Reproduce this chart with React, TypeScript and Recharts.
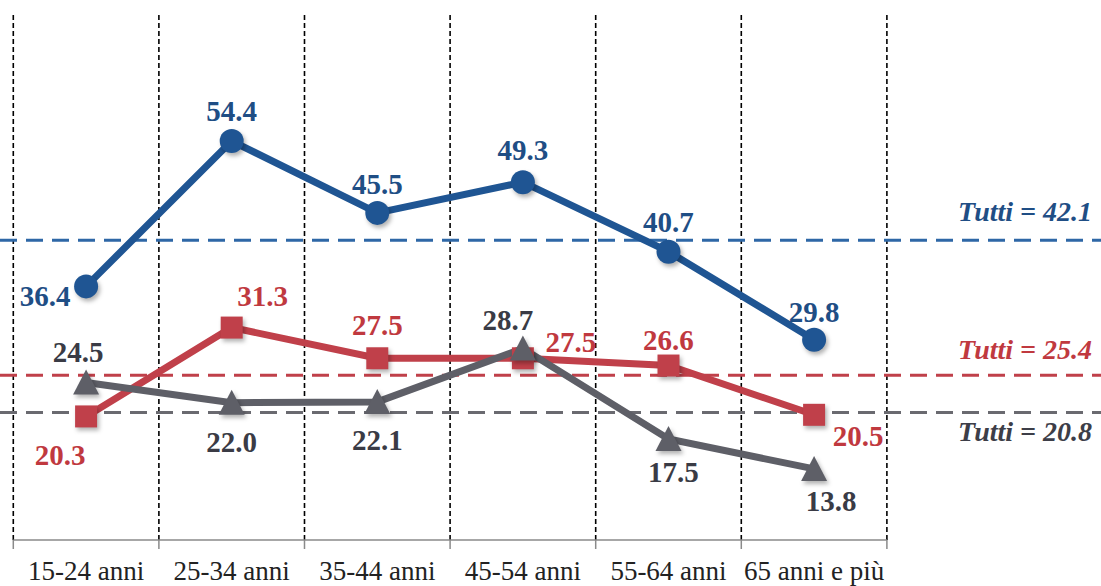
import { LabelList, Line, LineChart, ReferenceLine, XAxis, YAxis } from "recharts";

const categories = ["15-24 anni", "25-34 anni", "35-44 anni", "45-54 anni", "55-64 anni", "65 anni e più"];
const blueValues = [36.4, 54.4, 45.5, 49.3, 40.7, 29.8];
const redValues = [20.3, 31.3, 27.5, 27.5, 26.6, 20.5];
const grayValues = [24.5, 22.0, 22.1, 28.7, 17.5, 13.8];
const blueTotal = 42.1;
const redTotal = 25.4;
const grayTotal = 20.8;

// label placement (dx, dy from the point), styling only
const BLUE_OFFSETS = [[-41, 10], [0, -30], [0, -29], [0, -32], [0, -30], [0, -28]];
const RED_OFFSETS = [[-26, 39], [31, -32], [0, -33], [48, -16], [0, -26], [44, 21]];
const GRAY_OFFSETS = [[-8, -31], [0, 39], [0, 38], [-15, -29], [5, 33], [17, 32]];

const SERIF = "'Liberation Serif', 'Times New Roman', serif";
const BLUE = "#1f5593";
const RED = "#c0404a";
const GRAY = "#5e5f67";

const chartData = categories.map((name, i) => ({
  x: i + 0.5,
  name,
  blue: blueValues[i],
  red: redValues[i],
  gray: grayValues[i],
}));

const boundaries = categories.map((_, i) => i).concat(categories.length);
const axisTicks = boundaries.flatMap((b) => (b < categories.length ? [b, b + 0.5] : [b]));

const shadow = { filter: "drop-shadow(2px 3px 2px rgba(0,0,0,0.3))" };

function AxisTick({ x, y, payload }: any) {
  const v = payload.value as number;
  if (Number.isInteger(v)) {
    return <line x1={x} y1={y} x2={x} y2={y + 9} stroke="#8a8a8a" strokeWidth={1.5} />;
  }
  return (
    <text x={x} y={y + 40} textAnchor="middle" fontFamily={SERIF} fontSize={27} fill="#222">
      {categories[Math.floor(v)]}
    </text>
  );
}

function makeLabel(offsets: number[][], color: string) {
  return (props: any) => {
    const { x, y, value, index } = props;
    const [dx, dy] = offsets[index] || [0, -30];
    return (
      <text
        x={x + dx}
        y={y + dy}
        textAnchor="middle"
        dominantBaseline="central"
        fontFamily={SERIF}
        fontWeight="bold"
        fontSize={29}
        fill={color}
      >
        {Number(value).toFixed(1)}
      </text>
    );
  };
}

function makeTotalLabel(value: number, color: string, dy: number) {
  return (props: any) => {
    const vb = props.viewBox || {};
    return (
      <text
        x={vb.x + vb.width - 9}
        y={vb.y + dy}
        textAnchor="end"
        fontFamily={SERIF}
        fontWeight="bold"
        fontStyle="italic"
        fontSize={28}
        fill={color}
      >
        {`Tutti = ${value.toFixed(1)}`}
      </text>
    );
  };
}

const circleDot = (props: any) => (
  <circle key={props.index} cx={props.cx} cy={props.cy} r={12} fill={BLUE} style={shadow} />
);
const squareDot = (props: any) => (
  <rect key={props.index} x={props.cx - 11} y={props.cy - 11} width={22} height={22} fill={RED} style={shadow} />
);
const triangleDot = (props: any) => (
  <path
    key={props.index}
    d={`M${props.cx},${props.cy - 13} L${props.cx + 13},${props.cy + 12} L${props.cx - 13},${props.cy + 12} Z`}
    fill={GRAY}
    style={shadow}
  />
);

export default function App() {
  return (
    <div>
      <style>{"body{margin:0}"}</style>
      <LineChart width={1101} height={586} data={chartData} margin={{ top: 15, right: 0, left: 0, bottom: 0 }}>
        <XAxis
          dataKey="x"
          type="number"
          domain={[-0.0913, 7.4705]}
          allowDataOverflow
          ticks={axisTicks}
          interval={0}
          tick={<AxisTick />}
          tickSize={0}
          tickMargin={0}
          axisLine={false}
          tickLine={false}
          height={46}
        />
        <YAxis type="number" domain={[5, 70]} allowDataOverflow hide />
        {boundaries.map((b) => (
          <ReferenceLine key={b} x={b} stroke="#000" strokeWidth={1.6} strokeDasharray="5 3" />
        ))}
        <ReferenceLine
          segment={[{ x: 0, y: 5 }, { x: categories.length, y: 5 }]}
          stroke="#8a8a8a"
          strokeWidth={1.5}
          ifOverflow="visible"
        />
        <ReferenceLine
          y={blueTotal}
          stroke="#2e67a6"
          strokeWidth={3}
          strokeDasharray="17 9"
          label={makeTotalLabel(blueTotal, "#1f4e85", -19)}
        />
        <ReferenceLine
          y={redTotal}
          stroke={RED}
          strokeWidth={3}
          strokeDasharray="17 9"
          label={makeTotalLabel(redTotal, "#c0393f", -16)}
        />
        <ReferenceLine
          y={grayTotal}
          stroke="#6a6a70"
          strokeWidth={3}
          strokeDasharray="17 9"
          label={makeTotalLabel(grayTotal, "#3d3e48", 29)}
        />
        <Line
          type="linear"
          dataKey="red"
          stroke={RED}
          strokeWidth={7}
          dot={squareDot}
          activeDot={false}
          isAnimationActive={false}
        >
          <LabelList dataKey="red" content={makeLabel(RED_OFFSETS, "#c0393f")} />
        </Line>
        <Line
          type="linear"
          dataKey="gray"
          stroke={GRAY}
          strokeWidth={7}
          dot={triangleDot}
          activeDot={false}
          isAnimationActive={false}
        >
          <LabelList dataKey="gray" content={makeLabel(GRAY_OFFSETS, "#3a3b45")} />
        </Line>
        <Line
          type="linear"
          dataKey="blue"
          stroke={BLUE}
          strokeWidth={7}
          dot={circleDot}
          activeDot={false}
          isAnimationActive={false}
        >
          <LabelList dataKey="blue" content={makeLabel(BLUE_OFFSETS, "#1f4e85")} />
        </Line>
      </LineChart>
    </div>
  );
}
